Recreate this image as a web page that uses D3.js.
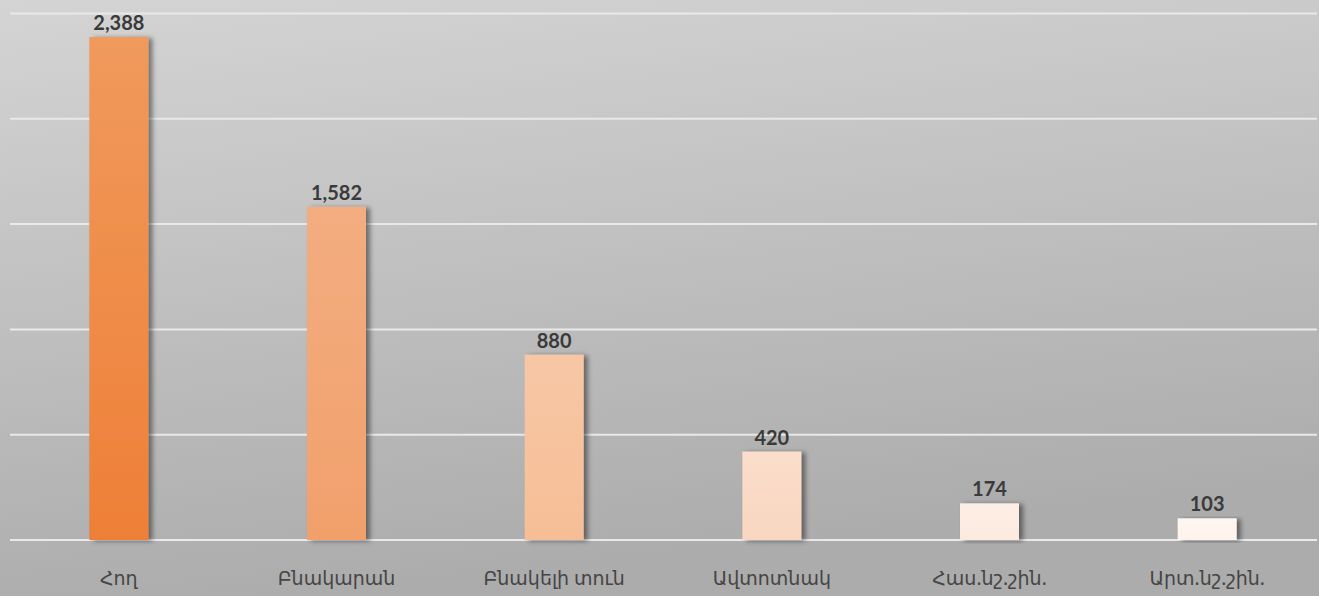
<!DOCTYPE html>
<html><head><meta charset="utf-8">
<script src="https://cdn.jsdelivr.net/npm/d3@7"></script>
<style>html,body{margin:0;padding:0;overflow:hidden;background:#c0c0c0}</style>
</head><body>
<svg id="chart" width="1319" height="596"></svg>
<script>
const categories = ["Հող", "Բնակարան", "Բնակելի տուն", "Ավտոտնակ", "Հաս.նշ.շին.", "Արտ.նշ.շին."];
const values = [2388, 1582, 880, 420, 174, 103];
const yTicks = [0, 500, 1000, 1500, 2000, 2500];
const barTop = ["#F09A5C", "#F3AD80", "#F7C7A5", "#FADDCB", "#FDEEE5", "#FEF6F1"];
const barBottom = ["#EE7F37", "#F1A06B", "#F6BE96", "#F9D6C0", "#FCEADF", "#FEF3EC"];

const W = 1319, H = 596;
const svg = d3.select("#chart");
const defs = svg.append("defs");
const bg = defs.append("linearGradient").attr("id","bg").attr("x1",0).attr("y1",0).attr("x2",0.25).attr("y2",1);
bg.append("stop").attr("offset","0%").attr("stop-color","#d4d4d4");
bg.append("stop").attr("offset","100%").attr("stop-color","#acacac");
svg.append("rect").attr("width",W).attr("height",H).attr("fill","url(#bg)");

const f = defs.append("filter").attr("id","shadow").attr("x","-30%").attr("y","-10%").attr("width","160%").attr("height","120%");
f.append("feDropShadow").attr("dx",4).attr("dy",1).attr("stdDeviation",2.5).attr("flood-color","#000").attr("flood-opacity",0.45);

categories.forEach((c,i)=>{
  const g = defs.append("linearGradient").attr("id","bar"+i).attr("x1",0).attr("y1",0).attr("x2",0).attr("y2",1);
  g.append("stop").attr("offset","0%").attr("stop-color",barTop[i]);
  g.append("stop").attr("offset","100%").attr("stop-color",barBottom[i]);
});

const x = d3.scaleBand().domain(categories).range([10, 1316]).padding(0);
const y = d3.scaleLinear().domain([0, 2500]).range([540, 13.5]);

svg.append("g").selectAll("line").data(yTicks).join("line")
  .attr("x1",10).attr("x2",1317)
  .attr("y1",d=>y(d)).attr("y2",d=>y(d))
  .attr("stroke","#e9e9e9").attr("stroke-width",2);

const bw = 59;
svg.append("g").selectAll("rect").data(values).join("rect")
  .attr("x",(d,i)=>x(categories[i]) + x.bandwidth()/2 - bw/2)
  .attr("y",d=>y(d))
  .attr("width",bw)
  .attr("height",d=>y(0)-y(d))
  .attr("fill",(d,i)=>`url(#bar${i})`)
  .attr("filter","url(#shadow)");

svg.append("g").selectAll("text").data(values).join("text")
  .attr("x",(d,i)=>x(categories[i]) + x.bandwidth()/2)
  .attr("y",d=>y(d)-7)
  .attr("text-anchor","middle")
  .attr("font-family","Lato, 'Open Sans', sans-serif")
  .attr("font-weight","bold")
  .attr("font-size",20)
  .attr("fill","#3a3a3a")
  .text(d=>d3.format(",")(d));

svg.append("g").selectAll("text").data(categories).join("text")
  .attr("x",d=>x(d) + x.bandwidth()/2)
  .attr("y",585)
  .attr("text-anchor","middle")
  .attr("font-family","'Noto Sans', 'DejaVu Sans', sans-serif")
  .attr("font-size",19)
  .attr("fill","#454545")
  .text(d=>d);
</script>
</body></html>
